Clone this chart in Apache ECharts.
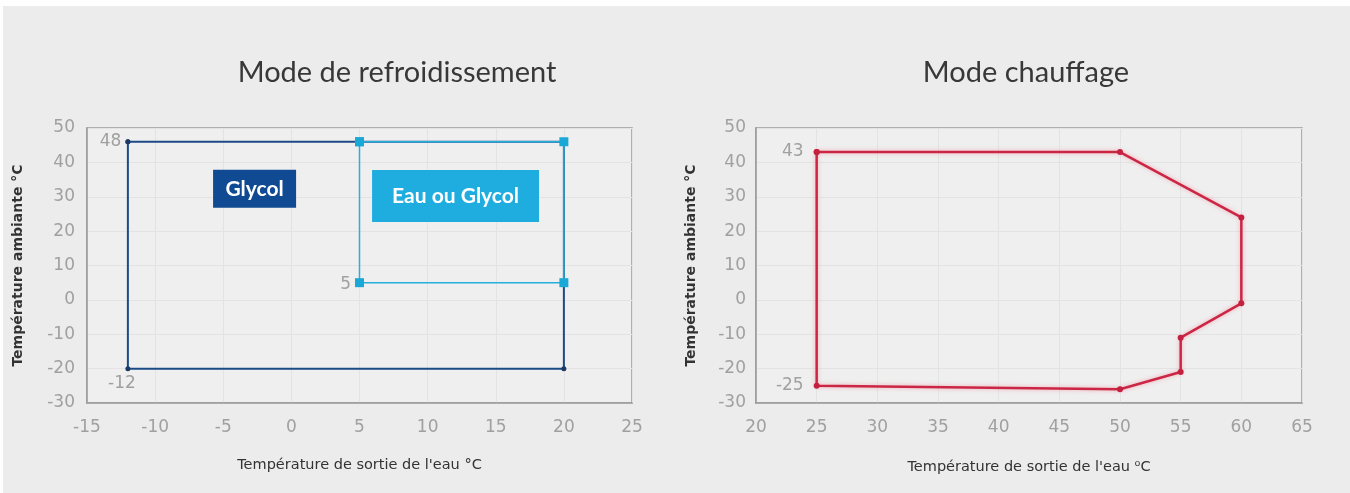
<!DOCTYPE html>
<html>
<head>
<meta charset="utf-8">
<script src="https://cdn.jsdelivr.net/npm/echarts@6/dist/echarts.min.js"></script>
<style>
html,body{margin:0;padding:0;background:#fff;}
#c{width:1350px;height:493px;}
</style>
</head>
<body>
<div id="c"></div>
<script>
// ---- data ----
const titles = ['Mode de refroidissement', 'Mode chauffage'];
const xAxisName = "Température de sortie de l'eau °C";
const xAxisName2 = "Température de sortie de l'eau ⁰C";
const yAxisName = 'Température ambiante °C';
const glycolPts = [[-12, 46], [20, 46], [20, -20], [-12, -20], [-12, 46]];
const eauPts = [[5, 46], [20, 46], [20, 5], [5, 5], [5, 46]];
const heatPts = [[25, 43], [50, 43], [60, 24], [60, -1], [55, -11], [55, -21], [50, -26], [25, -25], [25, 43]];
const boxLabels = ['Glycol', 'Eau ou Glycol'];
const boxPos = [[-2.7, 32.3], [12.05, 30.2]];
const leftX = {min: -15, max: 25, interval: 5};
const rightX = {min: 20, max: 65, interval: 5};
const yRange = {min: -30, max: 50, interval: 10};

const gray = '#a0a0a0';
const font = 'Lato, "Open Sans", sans-serif';
const tickFont = '"DejaVu Sans", sans-serif';

function withLabels(pts, labels) {
  return pts.map((p, i) => {
    const l = labels[i];
    if (!l) return {value: p};
    return {value: p, label: Object.assign({show: true, color: gray, fontSize: 17, fontFamily: tickFont}, l)};
  });
}

const chart = echarts.init(document.getElementById('c'));
const axisCommon = {
  type: 'value',
  axisLine: {show: true, onZero: false, lineStyle: {color: '#9a9a9a', width: 1.5}},
  axisTick: {show: false},
  axisLabel: {color: gray, fontSize: 17, fontFamily: tickFont},
  splitLine: {show: true, lineStyle: {color: '#e3e3e3', width: 1}},
  nameTextStyle: {color: '#333', fontSize: 14.5, fontFamily: '"DejaVu Sans", sans-serif'},
  nameLocation: 'middle'
};
const yNameStyle = {color: '#333', fontSize: 14, fontWeight: 'bold', fontFamily: '"DejaVu Sans", sans-serif'};
chart.setOption({
  backgroundColor: '#ececec',
  animation: false,
  title: [
    {text: titles[0], left: 392, top: 53, textAlign: 'center', textStyle: {fontSize: 29, fontWeight: 'normal', color: '#383838', fontFamily: font}},
    {text: titles[1], left: 1021, top: 53, textAlign: 'center', textStyle: {fontSize: 29, fontWeight: 'normal', color: '#383838', fontFamily: font}}
  ],
  graphic: [
    {type: 'rect', shape: {x: 0, y: 0, width: 1350, height: 6}, style: {fill: '#fff'}, z: 10},
    {type: 'rect', shape: {x: 0, y: 0, width: 3, height: 493}, style: {fill: '#fff'}, z: 10}
  ],
  grid: [
    {left: 87, top: 128, width: 545, height: 275, show: true, backgroundColor: '#efefef', borderColor: '#9a9a9a', borderWidth: 1.5},
    {left: 756, top: 128, width: 546, height: 275, show: true, backgroundColor: '#efefef', borderColor: '#9a9a9a', borderWidth: 1.5}
  ],
  xAxis: [
    Object.assign({}, axisCommon, {gridIndex: 0, min: leftX.min, max: leftX.max, interval: leftX.interval, name: xAxisName, nameGap: 55, axisLabel: Object.assign({}, axisCommon.axisLabel, {margin: 16})}),
    Object.assign({}, axisCommon, {gridIndex: 1, min: rightX.min, max: rightX.max, interval: rightX.interval, name: xAxisName2, nameGap: 57, axisLabel: Object.assign({}, axisCommon.axisLabel, {margin: 16})})
  ],
  yAxis: [
    Object.assign({}, axisCommon, {gridIndex: 0, min: yRange.min, max: yRange.max, interval: yRange.interval, name: yAxisName, nameGap: 62, nameTextStyle: yNameStyle, axisLabel: Object.assign({}, axisCommon.axisLabel, {margin: 12})}),
    Object.assign({}, axisCommon, {gridIndex: 1, min: yRange.min, max: yRange.max, interval: yRange.interval, name: yAxisName, nameGap: 58, nameTextStyle: yNameStyle, axisLabel: Object.assign({}, axisCommon.axisLabel, {margin: 10})})
  ],
  series: [
    {
      type: 'line', xAxisIndex: 0, yAxisIndex: 0,
      data: withLabels(glycolPts, [{formatter: '48', position: 'left', distance: 4}, null, null, {formatter: '-12', position: 'bottom', distance: 4, offset: [-6, 0]}]),
      lineStyle: {color: '#1c4a86', width: 2},
      itemStyle: {color: '#1b3a66'},
      symbol: 'circle', symbolSize: 5, z: 2
    },
    {
      type: 'line', xAxisIndex: 0, yAxisIndex: 0,
      data: withLabels(eauPts, [null, null, null, {formatter: '5', position: 'left', distance: 4, offset: [0, 2]}]),
      lineStyle: {color: '#26afdc', width: 1.5},
      itemStyle: {color: '#1aa8d6'},
      symbol: 'rect', symbolSize: 9, z: 3
    },
    {
      type: 'line', xAxisIndex: 1, yAxisIndex: 1,
      data: withLabels(heatPts, [{formatter: '43', position: 'left', distance: 10}, null, null, null, null, null, null, {formatter: '-25', position: 'left', distance: 10}]),
      lineStyle: {color: '#cc2645', width: 2.5, shadowColor: 'rgba(240,120,140,0.6)', shadowBlur: 4},
      itemStyle: {color: '#c4203f'},
      symbol: 'circle', symbolSize: 6, z: 2
    },
    {
      type: 'scatter', xAxisIndex: 0, yAxisIndex: 0, symbolSize: 0, z: 5, silent: true,
      itemStyle: {opacity: 1},
      data: [
        {value: boxPos[0], label: {show: true, formatter: boxLabels[0], position: 'inside', color: '#fff', fontWeight: 'bold', fontSize: 21, fontFamily: font, backgroundColor: '#0f4a93', width: 83, height: 38, lineHeight: 36, align: 'center', verticalAlign: 'middle', padding: 0}},
        {value: boxPos[1], label: {show: true, formatter: boxLabels[1], position: 'inside', color: '#fff', fontWeight: 'bold', fontSize: 21, fontFamily: font, backgroundColor: '#1faddf', width: 167, height: 40, lineHeight: 40, align: 'center', verticalAlign: 'middle', padding: [0, 0, 12, 0]}}
      ]
    }
  ]
});
</script>
</body>
</html>
